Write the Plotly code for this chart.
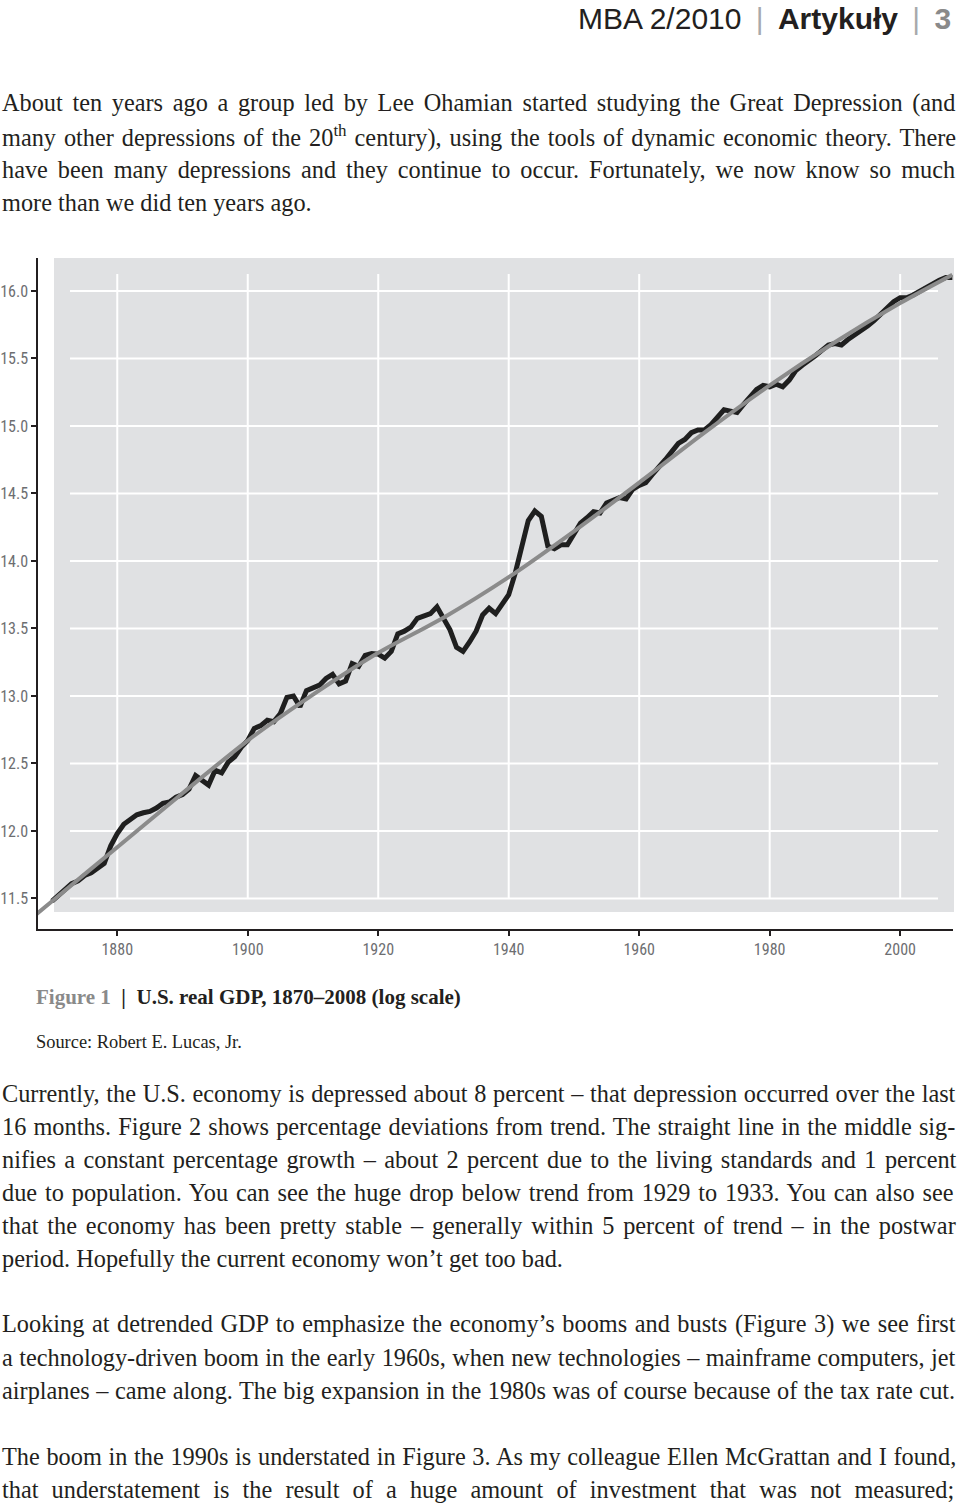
import plotly.graph_objects as go

# ---------------- data ----------------
years = list(range(1870, 2009))
log_gdp = [
    11.48, 11.52, 11.56, 11.61, 11.63, 11.67, 11.69, 11.72, 11.76, 11.89,   # 1870-1879
    11.98, 12.05, 12.09, 12.12, 12.135, 12.145, 12.17, 12.205, 12.215, 12.25,  # 1880-1889
    12.27, 12.31, 12.41, 12.37, 12.34, 12.45, 12.43, 12.51, 12.55, 12.62,  # 1890-1899
    12.67, 12.76, 12.78, 12.82, 12.81, 12.87, 12.99, 13.00, 12.92, 13.04,  # 1900-1909
    13.06, 13.08, 13.13, 13.16, 13.09, 13.11, 13.24, 13.22, 13.30, 13.315, # 1910-1919
    13.31, 13.28, 13.33, 13.46, 13.48, 13.51, 13.575, 13.59, 13.61, 13.66, # 1920-1929
    13.57, 13.49, 13.36, 13.33, 13.40, 13.48, 13.60, 13.65, 13.61, 13.68,  # 1930-1939
    13.75, 13.91, 14.09, 14.30, 14.37, 14.33, 14.11, 14.09, 14.12, 14.12,  # 1940-1949
    14.20, 14.28, 14.32, 14.365, 14.355, 14.43, 14.45, 14.47, 14.46, 14.53,  # 1950-1959
    14.56, 14.58, 14.64, 14.69, 14.75, 14.81, 14.87, 14.90, 14.95, 14.97,  # 1960-1969
    14.97, 15.01, 15.07, 15.12, 15.11, 15.10, 15.16, 15.21, 15.27, 15.30,  # 1970-1979
    15.29, 15.31, 15.29, 15.34, 15.41, 15.45, 15.48, 15.52, 15.56, 15.60,  # 1980-1989
    15.61, 15.60, 15.64, 15.67, 15.71, 15.74, 15.78, 15.83, 15.87, 15.92,  # 1990-1999
    15.95, 15.95, 15.97, 16.00, 16.03, 16.06, 16.08, 16.10, 16.10,         # 2000-2008
]
trend_years = [1867, 1870, 1880, 1890, 1900, 1910, 1920, 1930, 1940, 1950, 1960, 1970, 1980, 1990, 2000, 2008]
trend_vals = [11.36, 11.48, 11.88, 12.28, 12.67, 13.01, 13.32, 13.58, 13.88, 14.22, 14.58, 14.95, 15.30, 15.62, 15.91, 16.12]

x_ticks = [1880, 1900, 1920, 1940, 1960, 1980, 2000]
y_ticks = [11.5, 12.0, 12.5, 13.0, 13.5, 14.0, 14.5, 15.0, 15.5, 16.0]

SEP = "\u00a0\u2009<span style='color:#a7a9ac'>|</span>\u2009\u00a0"
header = "MBA 2/2010" + SEP + "<b>Artykuły</b>" + SEP + "<span style='color:#8a8a8a'><b>3</b></span>"
para1 = [
    "About ten years ago a group led by Lee Ohamian started studying the Great Depression (and",
    "many other depressions of the 20<sup>th</sup> century), using the tools of dynamic economic theory. There",
    "have been many depressions and they continue to occur. Fortunately, we now know so much",
    "more than we did ten years ago.",
]
caption = "<span style='color:#8a8a8a'>Figure 1</span>\u00a0 |\u00a0 U.S. real GDP, 1870–2008 (log scale)"
source = "Source: Robert E. Lucas, Jr."
para2 = [
    "Currently, the U.S. economy is depressed about 8 percent – that depression occurred over the last",
    "16 months. Figure 2 shows percentage deviations from trend. The straight line in the middle sig-",
    "nifies a constant percentage growth – about 2 percent due to the living standards and 1 percent",
    "due to population. You can see the huge drop below trend from 1929 to 1933. You can also see",
    "that the economy has been pretty stable – generally within 5 percent of trend – in the postwar",
    "period. Hopefully the current economy won’t get too bad.",
]
para3 = [
    "Looking at detrended GDP to emphasize the economy’s booms and busts (Figure 3) we see first",
    "a technology-driven boom in the early 1960s, when new technologies – mainframe computers, jet",
    "airplanes – came along. The big expansion in the 1980s was of course because of the tax rate cut.",
]
para4 = [
    "The boom in the 1990s is understated in Figure 3. As my colleague Ellen McGrattan and I found,",
    "that understatement is the result of a huge amount of investment that was not measured;",
]
# extra word spacing (px) used to justify each line, like the printed page
ws1 = [3.6, 1.9, 3.9, 0]
ws2 = [0.6, 1.1, 2.3, 1.8, 2.8, 0]
ws3 = [1.5, 0.3, 0.5]
ws4 = [0.6, 7.1]

# ---------------- layout geometry ----------------
W, H = 960, 1506
L, R, T, B = 38, 953, 258, 929          # plot area in pixels
X_RANGE = [1867.85, 2008.1]
Y_RANGE = [11.274, 16.244]


def px2x(px):
    return X_RANGE[0] + (px - L) / (R - L) * (X_RANGE[1] - X_RANGE[0])


def py2y(py):
    return Y_RANGE[0] + (B - py) / (B - T) * (Y_RANGE[1] - Y_RANGE[0])


def pxp(px):
    return (px - L) / (R - L)


def pyp(py):
    return (B - py) / (B - T)


fig = go.Figure()
fig.add_trace(go.Scatter(x=years, y=log_gdp, mode="lines",
                         line=dict(color="#1f1f1f", width=5), hoverinfo="skip"))
fig.add_trace(go.Scatter(x=trend_years, y=trend_vals, mode="lines",
                         line=dict(color="#8b8b8b", width=4, shape="spline", smoothing=0.8),
                         hoverinfo="skip"))

shapes = [dict(type="rect", xref="paper", yref="paper", x0=pxp(54), x1=pxp(954), y0=pyp(912), y1=1.0,
               fillcolor="#e0e1e3", line=dict(width=0), layer="below")]
for yv in y_ticks:
    shapes.append(dict(type="line", xref="x", yref="y", x0=px2x(70), x1=px2x(938), y0=yv, y1=yv,
                       line=dict(color="white", width=2), layer="below"))
for xv in x_ticks:
    shapes.append(dict(type="line", xref="x", yref="y", x0=xv, x1=xv, y0=y_ticks[0], y1=py2y(274),
                       line=dict(color="white", width=2), layer="below"))

body_font = dict(family="Liberation Serif, Times New Roman, serif", size=24.3, color="#231f20")
annotations = [dict(text=header, xref="paper", yref="paper", x=pxp(953), y=pyp(18), xanchor="right",
                    yanchor="middle", showarrow=False,
                    font=dict(family="Liberation Sans, Arial, sans-serif", size=30, color="#231f20"))]


def add_lines(lines, spacing, y0, step=33.1, font=body_font):
    for i, (t, ws) in enumerate(zip(lines, spacing)):
        txt = "<span style='word-spacing:%.1fpx'>%s</span>" % (ws, t) if ws else t
        annotations.append(dict(text=txt, xref="paper", yref="paper", x=pxp(0), y=pyp(y0 + i * step),
                                xanchor="left", yanchor="middle", showarrow=False, font=font))


add_lines(para1, ws1, 103)
add_lines(para2, ws2, 1093)
add_lines(para3, ws3, 1324)
add_lines(para4, ws4, 1456)
annotations.append(dict(text="<b>" + caption + "</b>", xref="paper", yref="paper", x=pxp(34), y=pyp(997),
                        xanchor="left", yanchor="middle", showarrow=False,
                        font=dict(family="Liberation Serif, serif", size=21, color="#231f20")))
annotations.append(dict(text=source, xref="paper", yref="paper", x=pxp(34), y=pyp(1042),
                        xanchor="left", yanchor="middle", showarrow=False,
                        font=dict(family="Liberation Serif, serif", size=18.4, color="#231f20")))

tick_font = dict(family="Liberation Sans Narrow, Roboto Condensed, DejaVu Sans Condensed, Arial Narrow, Roboto, sans-serif",
                 size=16, color="#6d6e71")
fig.update_layout(
    width=W, height=H, margin=dict(l=L, r=W - R, t=T, b=H - B, pad=0, autoexpand=False),
    paper_bgcolor="white", plot_bgcolor="rgba(0,0,0,0)", showlegend=False,
    shapes=shapes, annotations=annotations,
    xaxis=dict(range=X_RANGE, tickvals=x_ticks, showgrid=False, zeroline=False, showline=True,
               linecolor="#231f20", linewidth=1.5, ticks="outside", ticklen=5, tickwidth=1.5,
               tickcolor="#231f20", tickfont=tick_font, automargin=False),
    yaxis=dict(range=Y_RANGE, tickvals=y_ticks, tickformat=".1f", showgrid=False, zeroline=False,
               showline=True, linecolor="#231f20", linewidth=1.5, ticks="outside", ticklen=5,
               tickwidth=1.5, tickcolor="#231f20", tickfont=tick_font, automargin=False),
)
fig.write_html("out.html")
